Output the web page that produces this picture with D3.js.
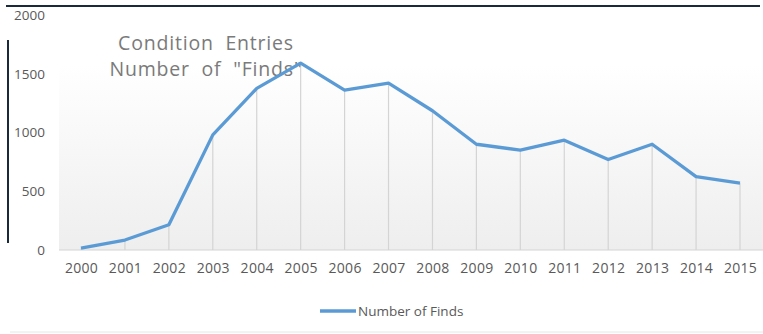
<!DOCTYPE html>
<html>
<head>
<meta charset="utf-8">
<script src="https://cdn.jsdelivr.net/npm/d3@7"></script>
<style>
  body { margin: 0; background: #fff; }
  svg { display: block; font-family: "Open Sans", sans-serif; }
</style>
</head>
<body>
<svg width="763" height="334"></svg>
<script>
// Data
const years = ["2000", "2001", "2002", "2003", "2004", "2005", "2006", "2007",
               "2008", "2009", "2010", "2011", "2012", "2013", "2014", "2015"];
const finds = [15, 85, 215, 980, 1375, 1590, 1360, 1420,
               1185, 900, 850, 935, 770, 900, 625, 570];
const yTicks = [0, 500, 1000, 1500, 2000];
const titleLines = ["Condition  Entries", "Number  of  \"Finds\""];
const seriesName = "Number of Finds";

const svg = d3.select("svg");

// plot area
const plotLeft = 59, plotRight = 763, plotTop = 15, plotBottom = 250;

const x = d3.scalePoint()
    .domain(years)
    .range([81, 740]);

const y = d3.scaleLinear()
    .domain([0, 2000])
    .range([plotBottom, plotTop]);

// soft gradient behind the plot
const defs = svg.append("defs");
const grad = defs.append("linearGradient")
    .attr("id", "bg").attr("x1", 0).attr("y1", 0).attr("x2", 0).attr("y2", 1);
grad.append("stop").attr("offset", "0%").attr("stop-color", "#ffffff");
grad.append("stop").attr("offset", "100%").attr("stop-color", "#eeeeee");

svg.append("rect")
    .attr("x", plotLeft).attr("y", 65)
    .attr("width", plotRight - plotLeft).attr("height", plotBottom - 65)
    .attr("fill", "url(#bg)");

// frame bits from the screenshot
svg.append("line")
    .attr("x1", 6).attr("x2", 760).attr("y1", 6).attr("y2", 6)
    .attr("stroke", "#1b2a3a").attr("stroke-width", 2);
svg.append("line")
    .attr("x1", 8).attr("x2", 8).attr("y1", 40).attr("y2", 243)
    .attr("stroke", "#1b2a3a").attr("stroke-width", 2);
svg.append("line")
    .attr("x1", 10).attr("x2", 763).attr("y1", 332).attr("y2", 332)
    .attr("stroke", "#e6e6e6").attr("stroke-width", 1);

// drop lines
svg.selectAll(".drop")
    .data(years)
    .join("line")
    .attr("class", "drop")
    .attr("x1", d => x(d)).attr("x2", d => x(d))
    .attr("y1", (d, i) => y(finds[i])).attr("y2", plotBottom)
    .attr("stroke", "#d4d4d4").attr("stroke-width", 1.2);

// baseline
svg.append("line")
    .attr("x1", plotLeft).attr("x2", plotRight).attr("y1", plotBottom).attr("y2", plotBottom)
    .attr("stroke", "#d4d4d4").attr("stroke-width", 1.2);

// y axis labels
const yAxis = svg.append("g")
    .attr("transform", `translate(45,0)`)
    .call(d3.axisLeft(y).tickValues(yTicks).tickSize(0).tickPadding(0).tickFormat(d3.format("d")));
yAxis.select(".domain").remove();
yAxis.selectAll("text")
    .attr("fill", "#595959").style("font-size", "13.5px").style("font-family", "Open Sans");

// x axis labels
const xAxis = svg.append("g")
    .attr("transform", `translate(0,${plotBottom})`)
    .call(d3.axisBottom(x).tickSize(0).tickPadding(13));
xAxis.select(".domain").remove();
xAxis.selectAll("text")
    .attr("fill", "#595959").style("font-size", "14px").style("font-family", "Open Sans")
    .style("letter-spacing", "0.3px");

// title
svg.append("text")
    .attr("x", 206).attr("y", 50)
    .attr("text-anchor", "middle")
    .attr("fill", "#7a7a7a")
    .style("font-size", "19.5px")
    .style("letter-spacing", "0.8px")
    .style("white-space", "pre")
    .selectAll("tspan")
    .data(titleLines)
    .join("tspan")
    .attr("x", 206)
    .attr("dy", (d, i) => i === 0 ? 0 : 26)
    .text(d => d);

// the series line
const line = d3.line()
    .x((d, i) => x(years[i]))
    .y(d => y(d));

svg.append("path")
    .datum(finds)
    .attr("d", line)
    .attr("fill", "none")
    .attr("stroke", "#5b9bd5")
    .attr("stroke-width", 3.3)
    .attr("stroke-linejoin", "round");

// legend
svg.append("line")
    .attr("x1", 320).attr("x2", 356).attr("y1", 311).attr("y2", 311)
    .attr("stroke", "#5b9bd5").attr("stroke-width", 3.3);
svg.append("text")
    .attr("x", 358).attr("y", 316)
    .attr("fill", "#595959")
    .style("font-size", "13.5px")
    .text(seriesName);
</script>
</body>
</html>
